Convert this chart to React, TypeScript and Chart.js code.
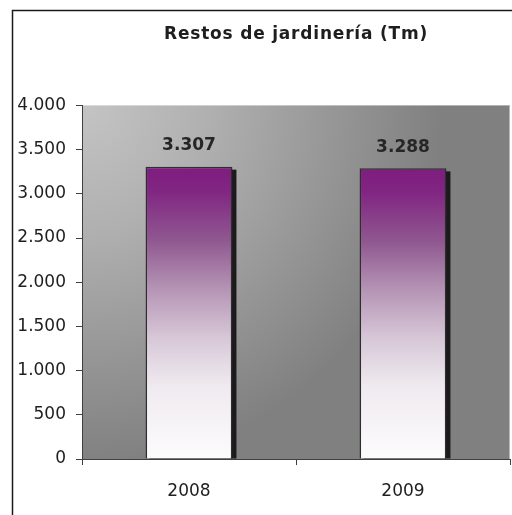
import React, { useEffect, useRef } from "react";
import { Chart, registerables } from "chart.js";

Chart.register(...registerables);

const categories = ["2008", "2009"];
const values = [3307, 3288];
const titleText = "Restos de jardinería (Tm)";
const yMax = 4000;
const yStep = 500;

const fmt = (v: number) => String(Math.round(v)).replace(/\B(?=(\d{3})+(?!\d))/g, ".");

const FONT = "'DejaVu Sans', Verdana, sans-serif";

export default function App() {
  const ref = useRef<HTMLCanvasElement | null>(null);
  useEffect(() => {
    if (!ref.current) return;
    const framePlugin = {
      id: "frame",
      afterInit(chart: any) {
        const tb = chart.titleBlock;
        if (tb && !tb.__spaced) {
          const orig = tb.draw.bind(tb);
          tb.draw = (...args: any[]) => {
            const ctx = chart.ctx;
            ctx.save();
            try {
              (ctx as any).letterSpacing = "0.8px";
            } catch (e) {}
            orig(...args);
            ctx.restore();
          };
          tb.__spaced = true;
        }
      },
      beforeDraw(chart: any) {
        const { ctx, chartArea: a, width, height } = chart;
        ctx.save();
        ctx.fillStyle = "#ffffff";
        ctx.fillRect(0, 0, width, height);
        ctx.strokeStyle = "#1a1a1a";
        ctx.lineWidth = 1.5;
        ctx.beginPath();
        ctx.moveTo(12.5, height + 2);
        ctx.lineTo(12.5, 10.5);
        ctx.lineTo(width + 2, 10.5);
        ctx.stroke();
        const g = ctx.createRadialGradient(a.left, a.top, 0, a.left, a.top, 360);
        g.addColorStop(0, "#c4c4c4");
        g.addColorStop(0.35, "#b0b0b0");
        g.addColorStop(1, "#808080");
        ctx.fillStyle = g;
        ctx.fillRect(a.left, a.top, a.right - a.left, a.bottom - a.top);
        ctx.fillStyle = "#b8b8b8";
        ctx.fillRect(a.right - 1, a.top, 1, a.bottom - a.top);
        ctx.restore();
      },
      beforeDatasetsDraw(chart: any) {
        const { ctx } = chart;
        const meta = chart.getDatasetMeta(0);
        ctx.save();
        ctx.fillStyle = "#1c1a1c";
        meta.data.forEach((el: any) => {
          const w = el.width;
          ctx.fillRect(el.x - w / 2 + 4, el.y + 3, w, el.base - el.y - 3);
        });
        ctx.restore();
      },
      afterDatasetsDraw(chart: any) {
        const { ctx } = chart;
        const meta = chart.getDatasetMeta(0);
        ctx.save();
        ctx.font = `bold 17px ${FONT}`;
        ctx.fillStyle = "#262626";
        ctx.textAlign = "center";
        ctx.textBaseline = "middle";
        meta.data.forEach((el: any, i: number) => {
          ctx.fillText(fmt(values[i]), el.x, el.y - 21);
        });
        ctx.restore();
      },
    };

    const chart = new Chart(ref.current, {
      type: "bar",
      data: {
        labels: categories,
        datasets: [
          {
            data: values,
            backgroundColor: (c: any) => {
              const ch = c.chart;
              const y = ch.scales?.y;
              if (!ch.chartArea || !y) return "#7f1f80";
              const v = values[c.dataIndex] ?? 0;
              const top = y.getPixelForValue(v);
              const bot = y.getPixelForValue(0);
              const g = ch.ctx.createLinearGradient(0, top, 0, bot);
              g.addColorStop(0, "#7e1d7f");
              g.addColorStop(0.08, "#812582");
              g.addColorStop(0.25, "#8f5790");
              g.addColorStop(0.42, "#b595b5");
              g.addColorStop(0.58, "#d6c6d6");
              g.addColorStop(0.75, "#efeaef");
              g.addColorStop(1, "#fdfcfd");
              return g;
            },
            borderColor: "#2e2e2e",
            borderWidth: 1.5,
            barPercentage: 0.406,
            categoryPercentage: 1,
          },
        ],
      },
      options: {
        responsive: false,
        animation: false,
        layout: { padding: { left: 12, right: 2, top: 0, bottom: 0 } },
        plugins: {
          legend: { display: false },
          tooltip: { enabled: false },
          title: {
            display: true,
            text: titleText,
            fullSize: false,
            color: "#1e1e1e",
            font: { family: FONT, size: 17, weight: "bold", lineHeight: 1.2 },
            padding: { top: 24, bottom: 61 },
          },
        },
        scales: {
          x: {
            grid: {
              drawOnChartArea: false,
              drawTicks: true,
              tickLength: 6,
              color: "#404040",
              offset: true,
            },
            border: { display: true, color: "#404040", width: 1 },
            ticks: {
              color: "#1e1e1e",
              font: { family: FONT, size: 17 },
              padding: 16,
            },
            afterFit: (s: any) => {
              s.height = 56;
            },
          },
          y: {
            min: 0,
            max: yMax,
            ticks: {
              stepSize: yStep,
              color: "#1e1e1e",
              font: { family: FONT, size: 17 },
              padding: 10,
              callback: (v: any) => fmt(Number(v)),
            },
            grid: {
              drawOnChartArea: false,
              drawTicks: true,
              tickLength: 6,
              color: "#404040",
            },
            border: { display: true, color: "#404040", width: 1 },
            afterFit: (s: any) => {
              s.width = 70;
            },
          },
        },
      },
      plugins: [framePlugin],
    } as any);
    chart.draw();
    return () => chart.destroy();
  }, []);
  return (
    <div style={{ position: "fixed", left: 0, top: 0, width: 512, height: 515 }}>
      <canvas ref={ref} width={512} height={515} style={{ display: "block" }} />
    </div>
  );
}
